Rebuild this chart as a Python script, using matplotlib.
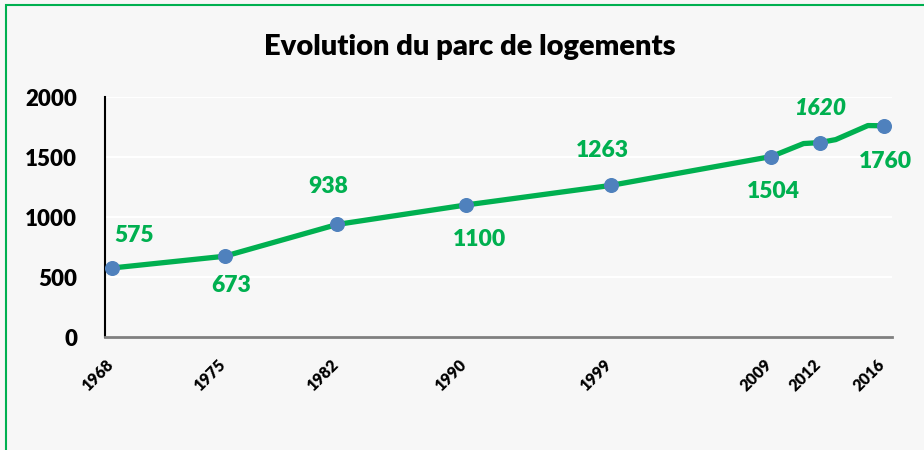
import matplotlib
matplotlib.use("Agg")
import matplotlib.pyplot as plt
from matplotlib.patches import Rectangle
from matplotlib.transforms import ScaledTranslation

# ---- data ----
census_years = [1968, 1975, 1982, 1990, 1999, 2009, 2012, 2016]
census_values = [575, 673, 938, 1100, 1263, 1504, 1620, 1760]
line_years = [1968, 1975, 1982, 1990, 1999, 2009, 2011, 2012, 2013, 2015, 2016]
line_values = [575, 673, 938, 1100, 1263, 1504, 1612, 1620, 1645, 1762, 1760]
yticks = [0, 500, 1000, 1500, 2000]
title = "Evolution du parc de logements"

plt.rcParams['font.family'] = ['Lato', 'DejaVu Sans']

W, H, DPI = 924, 450, 100
bg = '#f7f7f7'
green = '#00b050'
blue = '#4f81bd'
WEIGHT = 'heavy'

fig = plt.figure(figsize=(W / DPI, H / DPI), dpi=DPI, facecolor=bg)

# green frame (extends past right / bottom edges as in the reference)
fig.patches.append(Rectangle((5.5 / W, -0.05), 1.2, 1.05 - 4.5 / H,
                             transform=fig.transFigure, fill=False,
                             edgecolor=green, linewidth=1.5))

ax = fig.add_axes([105 / W, 1 - 337 / H, (892 - 105) / W, (337 - 97) / H])
ax.set_facecolor(bg)

ax.plot(line_years, line_values, color=green, linewidth=3.8,
        solid_joinstyle='round', solid_capstyle='round', zorder=3)
ax.plot(census_years, census_values, linestyle='none', marker='o',
        markersize=9.8, color=blue, zorder=4, clip_on=False)

# label offsets in pixels (dx, dy downward)
offsets = [(22, -33), (6, 29), (-9, -38), (14, 34), (-8, -35),
           (2, 35), (0, -34), (1, 36)]
for yr, v, (dx, dy) in zip(census_years, census_values, offsets):
    ax.annotate(str(v), (yr, v), xytext=(dx * 0.72, -dy * 0.72),
                textcoords='offset points', ha='center', va='center',
                color=green, fontsize=16.5, fontweight=WEIGHT,
                fontstyle='italic' if yr == 2012 else 'normal',
                annotation_clip=False)

ax.set_xlim(1967.56, 2016.5)
ax.set_ylim(0, 2000)
ax.set_yticks(yticks)
ax.set_xticks(census_years)
ax.set_xticklabels([str(y) for y in census_years])
ax.grid(axis='y', color='white', linewidth=1.6)
ax.set_axisbelow(True)

for s in ['top', 'right']:
    ax.spines[s].set_visible(False)
ax.spines['left'].set_color('black')
ax.spines['left'].set_linewidth(1.5)
ax.spines['bottom'].set_color('#808080')
ax.spines['bottom'].set_linewidth(2)

ax.tick_params(axis='y', length=0, pad=20, labelsize=16)
ax.tick_params(axis='x', length=0, pad=14, labelsize=11.5)
for lab in ax.get_yticklabels():
    lab.set_fontweight(WEIGHT)
off = ScaledTranslation(4 / DPI, 0, fig.dpi_scale_trans)
for lab in ax.get_xticklabels():
    lab.set_fontweight(WEIGHT)
    lab.set_rotation(45)
    lab.set_ha('right')
    lab.set_va('top')
    lab.set_transform(lab.get_transform() + off)

fig.text(470 / W, 1 - 55 / H, title, ha='center', va='baseline',
         fontsize=21, fontweight=WEIGHT, color='black')

fig.savefig('out.png', dpi=DPI, facecolor=bg)
